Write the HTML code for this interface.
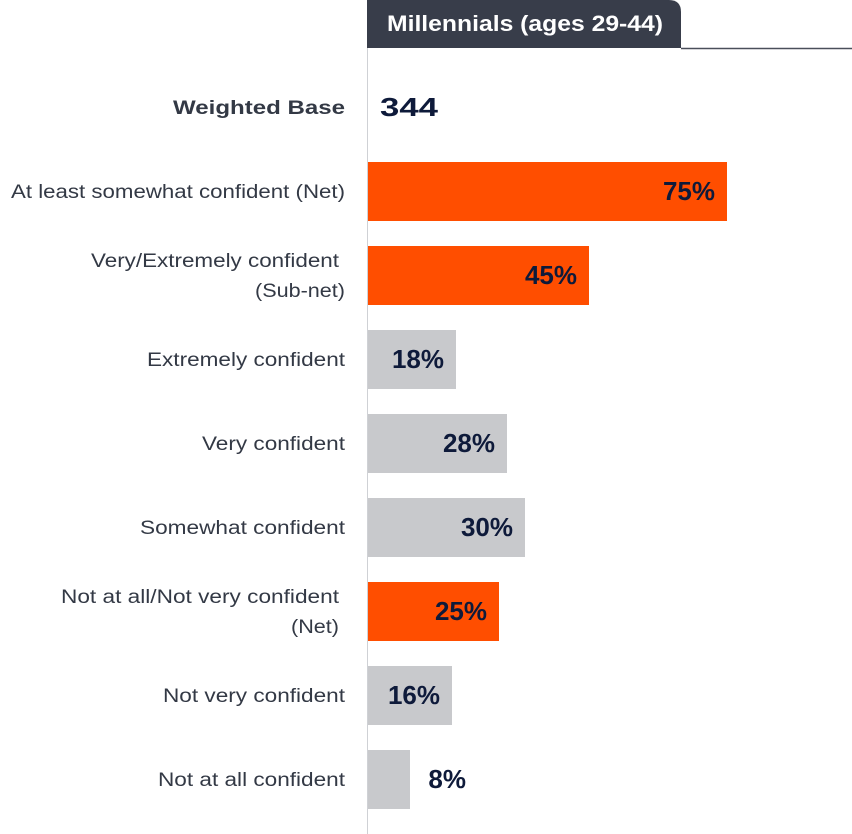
<!DOCTYPE html>
<html><head><meta charset="utf-8"><style>
html,body{margin:0;padding:0;background:#fff;}
svg{display:block;}
text{font-family:"Liberation Sans",sans-serif;}
.l{font-size:19px;fill:#333945;text-anchor:end;}
.v{font-size:26px;font-weight:bold;fill:#0e1a3a;}
</style></head><body>
<svg width="852" height="834" viewBox="0 0 852 834">
<path d="M367 48 V0 H669 Q681 0 681 12 V48 Z" fill="#383d4a"/>
<text x="387" y="31" font-size="22" font-weight="bold" fill="#fff" textLength="276" lengthAdjust="spacingAndGlyphs">Millennials (ages 29-44)</text>
<line x1="681" y1="48.5" x2="852" y2="48.5" stroke="#4a4f5a" stroke-width="1.5"/>
<line x1="367.5" y1="48" x2="367.5" y2="834" stroke="#cfd1d5" stroke-width="1"/>

<text class="l" x="345" y="114" font-weight="bold" font-size="21" textLength="172" lengthAdjust="spacingAndGlyphs">Weighted Base</text>
<text class="v" x="380" y="116" font-weight="normal" textLength="58" lengthAdjust="spacingAndGlyphs">344</text>

<rect x="368" y="162" width="359" height="59" fill="#ff4e00"/>
<text class="l" x="345" y="198" textLength="334" lengthAdjust="spacingAndGlyphs">At least somewhat confident (Net)</text>
<text class="v" x="715" y="200" text-anchor="end">75%</text>

<rect x="368" y="246" width="221" height="59" fill="#ff4e00"/>
<text class="l" x="339" y="267" textLength="248" lengthAdjust="spacingAndGlyphs">Very/Extremely confident</text>
<text class="l" x="345" y="297" textLength="90" lengthAdjust="spacingAndGlyphs">(Sub-net)</text>
<text class="v" x="577" y="284" text-anchor="end">45%</text>

<rect x="368" y="330" width="88" height="59" fill="#c8c9cc"/>
<text class="l" x="345" y="366" textLength="198" lengthAdjust="spacingAndGlyphs">Extremely confident</text>
<text class="v" x="444" y="368" text-anchor="end">18%</text>

<rect x="368" y="414" width="139" height="59" fill="#c8c9cc"/>
<text class="l" x="345" y="450" textLength="143" lengthAdjust="spacingAndGlyphs">Very confident</text>
<text class="v" x="495" y="452" text-anchor="end">28%</text>

<rect x="368" y="498" width="157" height="59" fill="#c8c9cc"/>
<text class="l" x="345" y="534" textLength="205" lengthAdjust="spacingAndGlyphs">Somewhat confident</text>
<text class="v" x="513" y="536" text-anchor="end">30%</text>

<rect x="368" y="582" width="131" height="59" fill="#ff4e00"/>
<text class="l" x="339" y="603" textLength="278" lengthAdjust="spacingAndGlyphs">Not at all/Not very confident</text>
<text class="l" x="339" y="633" textLength="48" lengthAdjust="spacingAndGlyphs">(Net)</text>
<text class="v" x="487" y="620" text-anchor="end">25%</text>

<rect x="368" y="666" width="84" height="59" fill="#c8c9cc"/>
<text class="l" x="345" y="702" textLength="182" lengthAdjust="spacingAndGlyphs">Not very confident</text>
<text class="v" x="440" y="704" text-anchor="end">16%</text>

<rect x="368" y="750" width="42" height="59" fill="#c8c9cc"/>
<text class="l" x="345" y="786" textLength="187" lengthAdjust="spacingAndGlyphs">Not at all confident</text>
<text class="v" x="466" y="788" text-anchor="end">8%</text>
</svg>
</body></html>
